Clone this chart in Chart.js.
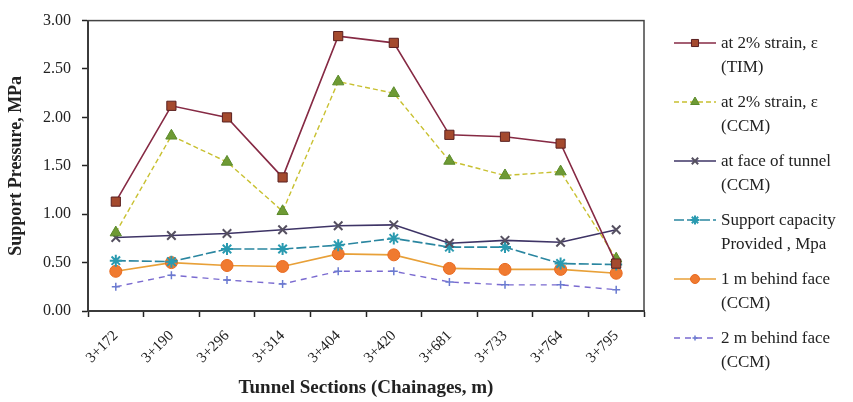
<!DOCTYPE html>
<html>
<head>
<meta charset="utf-8">
<script src="https://cdn.jsdelivr.net/npm/chart.js"></script>
<style>
  body { margin: 0; background: #fff; }
  #wrap { position: relative; width: 853px; height: 402px; }
  #legend { position: absolute; left: 672px; top: 31px; font-family: 'Liberation Serif', serif; font-size: 17px; color: #222; }
  .item { display: flex; align-items: flex-start; height: 59px; }
  .item canvas { margin-top: 4px; margin-right: 3px; }
  .item .txt { line-height: 24px; white-space: nowrap; }
</style>
</head>
<body>
<div id="wrap">
  <canvas id="chart" width="853" height="402"></canvas>
  <div id="legend"></div>
</div>
<script>
const chainages = ['3+172', '3+190', '3+296', '3+314', '3+404', '3+420', '3+681', '3+733', '3+764', '3+795'];
const strainTIM = [1.13, 2.12, 2.00, 1.38, 2.84, 2.77, 1.82, 1.80, 1.73, 0.49];
const strainCCM = [0.81, 1.81, 1.54, 1.03, 2.37, 2.25, 1.55, 1.40, 1.44, 0.54];
const faceCCM = [0.76, 0.78, 0.80, 0.84, 0.88, 0.89, 0.70, 0.73, 0.71, 0.84];
const supportCap = [0.52, 0.51, 0.64, 0.64, 0.68, 0.75, 0.66, 0.66, 0.49, 0.48];
const behind1m = [0.41, 0.50, 0.47, 0.46, 0.59, 0.58, 0.44, 0.43, 0.43, 0.39];
const behind2m = [0.25, 0.37, 0.32, 0.28, 0.41, 0.41, 0.30, 0.27, 0.27, 0.22];
const yTicks = [0, 0.5, 1, 1.5, 2, 2.5, 3];

const seriesNames = [
    ['at 2% strain, \u03b5', '(TIM)'],
    ['at 2% strain, \u03b5', '(CCM)'],
    ['at face of tunnel', '(CCM)'],
    ['Support capacity', 'Provided , Mpa'],
    ['1 m behind face', '(CCM)'],
    ['2 m behind face', '(CCM)']
];

const serif = "'Liberation Serif', 'Times New Roman', serif";

const datasets = [
    { data: strainTIM, borderColor: '#862a44', borderWidth: 1.6, pointStyle: 'rect', pointRadius: 6.5,
      pointBackgroundColor: '#a44a2e', pointBorderColor: '#5a2020', pointBorderWidth: 1 },
    { data: strainCCM, borderColor: '#c8c030', borderWidth: 1.4, borderDash: [5, 3], pointStyle: 'triangle', pointRadius: 6.5,
      pointBackgroundColor: '#6e9a34', pointBorderColor: '#5a8a2a', pointBorderWidth: 1 },
    { data: faceCCM, borderColor: '#3e3466', borderWidth: 1.6, pointStyle: 'crossRot', pointRadius: 6,
      pointBackgroundColor: '#555060', pointBorderColor: '#555060', pointBorderWidth: 2 },
    { data: supportCap, borderColor: '#2a86a0', borderWidth: 1.6, borderDash: [10, 3], pointStyle: 'star', pointRadius: 6,
      pointBackgroundColor: '#2a9ab0', pointBorderColor: '#2a9ab0', pointBorderWidth: 2 },
    { data: behind1m, borderColor: '#e8a038', borderWidth: 1.6, pointStyle: 'circle', pointRadius: 6,
      pointBackgroundColor: '#f07a30', pointBorderColor: '#e86a20', pointBorderWidth: 1 },
    { data: behind2m, borderColor: '#7a6ad0', borderWidth: 1.4, borderDash: [6, 5], pointStyle: 'cross', pointRadius: 4,
      pointBackgroundColor: '#6a7ad0', pointBorderColor: '#6a7ad0', pointBorderWidth: 1.5 }
];
datasets.forEach((d, i) => { d.label = seriesNames[i].join(' '); d.fill = false; d.tension = 0; });

// box round the plot area
const frame = {
    id: 'frame',
    afterDraw(chart) {
        const a = chart.chartArea;
        const ctx = chart.ctx;
        ctx.save();
        ctx.strokeStyle = '#444';
        ctx.lineWidth = 1.5;
        ctx.strokeRect(a.left, a.top, a.right - a.left, a.bottom - a.top);
        ctx.restore();
    }
};

new Chart(document.getElementById('chart'), {
    type: 'line',
    data: { labels: chainages, datasets: datasets },
    options: {
        responsive: false,
        animation: false,
        layout: { padding: { left: 0, top: 18, right: 209, bottom: 0 } },
        plugins: { legend: { display: false }, tooltip: { enabled: false } },
        scales: {
            x: {
                offset: true,
                grid: { offset: true, drawOnChartArea: false, color: '#222', tickLength: 6, tickWidth: 1.5 },
                border: { color: '#222', width: 2 },
                ticks: { maxRotation: 45, minRotation: 45, padding: 10, color: '#222', font: { family: serif, size: 15 } },
                title: { display: true, text: 'Tunnel Sections (Chainages, m)', color: '#222',
                         font: { family: serif, size: 19, weight: 'bold' }, padding: { top: 0, bottom: 3 } },
                afterFit(scale) { scale.height = 91; }
            },
            y: {
                min: 0, max: 3,
                afterBuildTicks(scale) { scale.ticks = yTicks.map(v => ({ value: v })); },
                grid: { drawOnChartArea: false, color: '#222', tickLength: 6, tickWidth: 1.5 },
                border: { color: '#222', width: 2 },
                ticks: { padding: 11, color: '#222', font: { family: serif, size: 16 }, callback: v => v.toFixed(2) },
                title: { display: true, text: 'Support Pressure, MPa', color: '#222',
                         font: { family: serif, size: 18, weight: 'bold' }, padding: { top: 6, bottom: 0 } },
                afterFit(scale) { scale.width = 88; }
            }
        }
    },
    plugins: [frame]
});

// legend with two-line labels
const legend = document.getElementById('legend');
datasets.forEach((d, i) => {
    const item = document.createElement('div');
    item.className = 'item';
    const c = document.createElement('canvas');
    c.width = 46; c.height = 16;
    const ctx = c.getContext('2d');
    ctx.strokeStyle = d.borderColor;
    ctx.lineWidth = d.borderWidth;
    ctx.setLineDash(d.borderDash || []);
    ctx.beginPath(); ctx.moveTo(2, 8); ctx.lineTo(44, 8); ctx.stroke();
    ctx.setLineDash([]);
    ctx.fillStyle = d.pointBackgroundColor;
    ctx.strokeStyle = d.pointBorderColor;
    ctx.lineWidth = d.pointBorderWidth;
    Chart.helpers.drawPoint(ctx, { pointStyle: d.pointStyle, radius: d.pointRadius - 1.5, rotation: 0, borderWidth: d.pointBorderWidth }, 23, 8);
    const t = document.createElement('div');
    t.className = 'txt';
    t.innerHTML = seriesNames[i][0] + '<br>' + seriesNames[i][1];
    item.appendChild(c);
    item.appendChild(t);
    legend.appendChild(item);
});
</script>
</body>
</html>
